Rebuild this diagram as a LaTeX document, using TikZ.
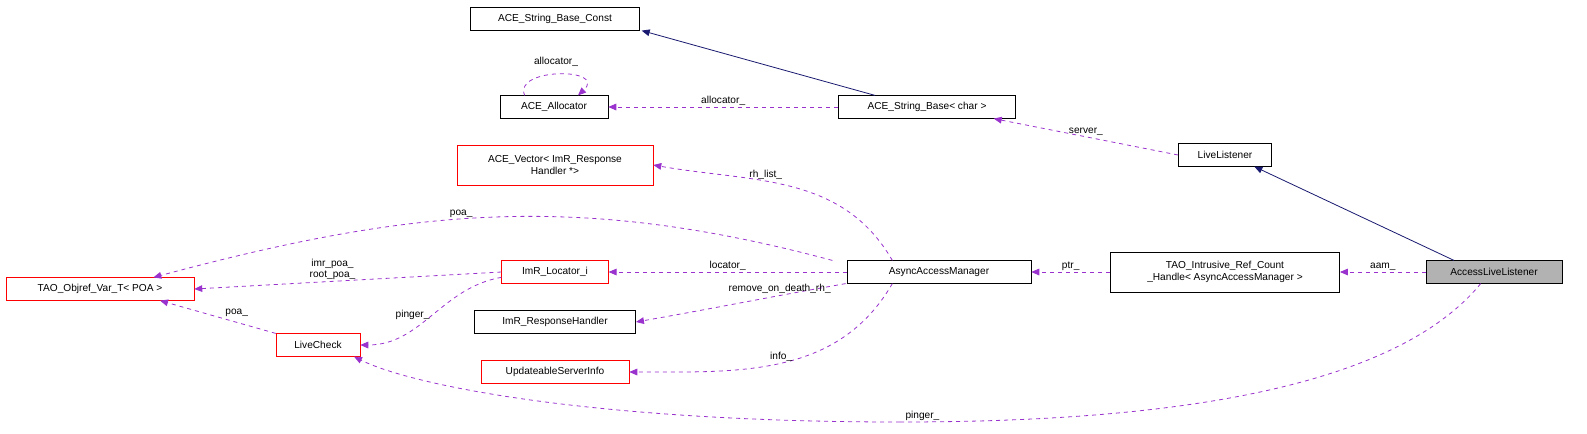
\documentclass[tikz,border=0pt]{standalone}
\usepackage{fontspec}
\setmainfont{Liberation Sans}
\usetikzlibrary{arrows.meta,positioning}
\definecolor{usecol}{HTML}{9A32CD}
\definecolor{inhcol}{HTML}{191970}
\tikzstyle{cls}=[draw=black,fill=white,inner sep=2pt,minimum height=17pt,font=\fontsize{7.6}{8.6}\selectfont,align=center]
\tikzstyle{redcls}=[cls,draw=red]
\tikzstyle{use}=[usecol,dashed,semithick,-{Triangle[length=6pt,width=5pt]}]
\tikzstyle{inh}=[inhcol,semithick,-{Triangle[length=6pt,width=5pt]}]
\tikzstyle{lbl}=[font=\fontsize{7.6}{8.6}\selectfont,text=black,inner sep=1pt,align=center]

\begin{document}
\begin{tikzpicture}[x=0.75pt,y=-0.75pt]
        \useasboundingbox (0,0) rectangle (1587,433);
        % classes
        \node[cls,minimum width=127pt](sbc) at (555,19) {ACE\_String\_Base\_Const};
        \node[cls,minimum width=81pt](alloc) at (554,107) {ACE\_Allocator};
        \node[cls,minimum width=133pt](sb) at (927,107) {ACE\_String\_Base\textless{} char \textgreater};
        \node[cls,minimum width=70pt](ll) at (1225,155) {LiveListener};
        \node[redcls,minimum width=147pt,minimum height=30pt](vec) at (555,165) {ACE\_Vector\textless{} ImR\_Response\\Handler *\textgreater};
        \node[cls,minimum width=138pt](aam) at (939,272) {AsyncAccessManager};
        \node[cls,minimum width=172pt,minimum height=30pt](ref) at (1225,272) {TAO\_Intrusive\_Ref\_Count\\\_Handle\textless{} AsyncAccessManager \textgreater};
        \node[cls,fill=black!30,minimum width=102pt](all) at (1494,272) {AccessLiveListener};
        \node[redcls,minimum width=141pt](obj) at (100,289) {TAO\_Objref\_Var\_T\textless{} POA \textgreater};
        \node[redcls,minimum width=80pt](loc) at (555,272) {ImR\_Locator\_i};
        \node[cls,minimum width=121pt](rh) at (555,322) {ImR\_ResponseHandler};
        \node[redcls,minimum width=63pt](lc) at (318,345) {LiveCheck};
        \node[redcls,minimum width=111pt](usi) at (555,372) {UpdateableServerInfo};
        \coordinate (low) at (900,422);
        % inheritance
        \draw[inh] (sb.north west) ++(37,0) -- ([xshift=65pt]sbc.south);
        \draw[inh] ([xshift=-30]all.north) -- ([xshift=22pt]ll.south);
        % usage
        \draw[use] ([xshift=-22]alloc.north) .. controls +(-12,-28) and +(30,-28) .. ([xshift=18]alloc.north);
        \node[lbl] (loopl) at (556,62) {allocator\_};
        \draw[usecol,dashed,semithick] ([xshift=-10]all.south) .. controls +(-90,110) and +(250,0) .. (low)
                node[lbl,above,pos=0.97]{pinger\_};
        \draw[use] (low) .. controls +(-300,0) and +(60,30) .. ([xshift=27]lc.south);
        \path[use]
        (sb) edge node[lbl,above]{allocator\_} (alloc)
        (ll.west) edge node[lbl,above]{server\_} ([xshift=50pt]sb.south)
        ([xshift=-35]aam.north) edge[out=120,in=-10] node[lbl,above,pos=0.6]{rh\_list\_} (vec.east)
        ([xshift=-80]aam.north) edge[out=165,in=15] node[lbl,above,pos=0.55]{poa\_} ([xshift=40]obj.north)
        (aam) edge node[lbl,above]{locator\_} (loc)
        ([xshift=-70]aam.south) edge[out=190,in=10] node[lbl,above,pos=0.3]{remove\_on\_death\_rh\_} (rh.east)
        ([xshift=-35]aam.south) edge[out=-120,in=0] node[lbl,above,pos=0.5]{info\_} (usi.east)
        (loc.west) edge node[lbl,above,pos=0.55]{imr\_poa\_\\root\_poa\_} (obj.east)
        ([yshift=-4]loc.west) edge[out=190,in=0] node[lbl,left,pos=0.5]{pinger\_} (lc.east)
        (lc.north west) edge node[lbl,above right,pos=0.45]{poa\_} ([xshift=45]obj.south)
        (ref) edge node[lbl,above]{ptr\_} (aam)
        (all) edge node[lbl,above]{aam\_} (ref)
        ;
\end{tikzpicture}
\end{document}
